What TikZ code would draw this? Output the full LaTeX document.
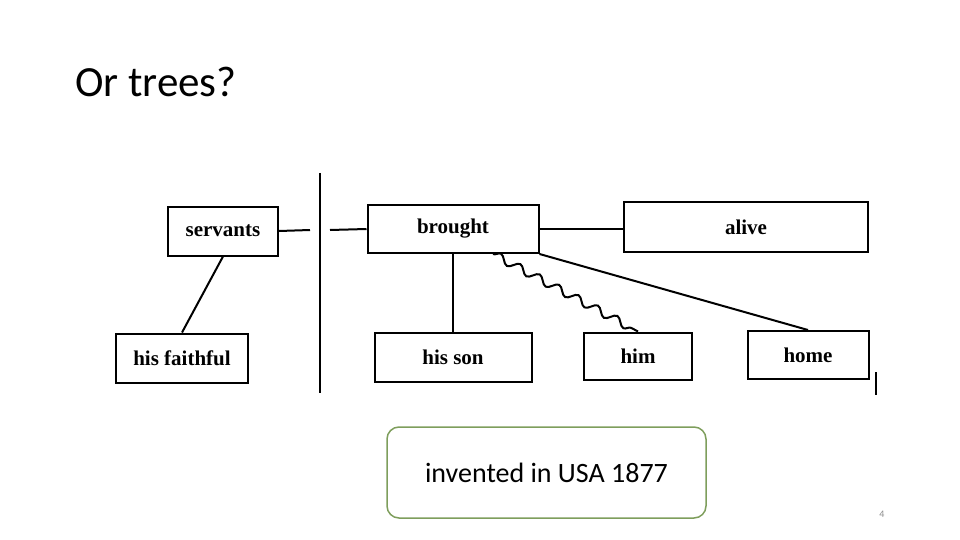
\documentclass[tikz,border=0pt]{standalone}
\usepackage{fontspec}
\setmainfont{Liberation Serif}
\newfontfamily\slidefont{Carlito}
\usetikzlibrary{decorations.pathmorphing}
\definecolor{notegreen}{RGB}{126,158,92}
\definecolor{pagegray}{RGB}{140,140,140}

\begin{document}
\begin{tikzpicture}[x=1pt, y=-1pt, line width=2pt,
    wordbox/.style={rectangle, draw, inner sep=0pt, font=\fontsize{21}{24}\selectfont\bfseries}]
        \useasboundingbox (0,0) rectangle (960,540);

        % Title
        \node (title) [anchor=base west, inner sep=0pt, font=\slidefont\fontsize{43}{48}\selectfont] at (74,97) {Or trees?};

        % Nodes
        \node (servants) [wordbox, minimum width=110pt, minimum height=49pt] at (223,231) {servants};
        \node (faithful) [wordbox, minimum width=132pt, minimum height=49pt] at (182,358) {his faithful};
        \node (brought) [wordbox, minimum width=171pt, minimum height=48pt] at (453,229) {brought};
        \node (alive) [wordbox, minimum width=244pt, minimum height=50pt] at (746,227) {alive};
        \node (hisson) [wordbox, minimum width=157pt, minimum height=49pt] at (453,357) {his son};
        \node (him) [wordbox, minimum width=108pt, minimum height=47pt] at (638,356) {him};
        \node (home) [wordbox, minimum width=121pt, minimum height=48pt] at (808,355) {home};

        % Divider
        \coordinate (barTop) at (320,173);
        \coordinate (barBot) at (320,393);
        \coordinate (stubL) at (310,230);
        \coordinate (stubR) at (330,230);
        \coordinate (tickTop) at (876,372);
        \coordinate (tickBot) at (876,395);
        \draw (barTop) -- (barBot);
        \draw[line width=1.2pt] (tickTop) -- (tickBot);

        % Edges
        \draw (servants.east) -- (stubL);
        \draw (stubR) -- (brought.west);
        \draw (servants.south) -- (faithful.north);
        \draw (brought.east) -- (brought.east -| alive.west);
        \draw (brought.south) -- (hisson.north);
        \draw (brought.south east) -- (home.north);
        \draw[decorate, decoration={snake, segment length=22pt, amplitude=4pt}]
            ([xshift=40pt]brought.south) -- (him.north);

        % Note
        \node (note) [rectangle, rounded corners=12pt, draw=notegreen, line width=1.5pt,
            minimum width=319pt, minimum height=91pt, font=\slidefont\fontsize{28}{32}\selectfont] at (546.5,472.5) {invented in USA 1877};
        \node (pagenum) [text=pagegray, font=\slidefont\fontsize{10}{12}\selectfont] at (882,514) {4};
\end{tikzpicture}
\end{document}
